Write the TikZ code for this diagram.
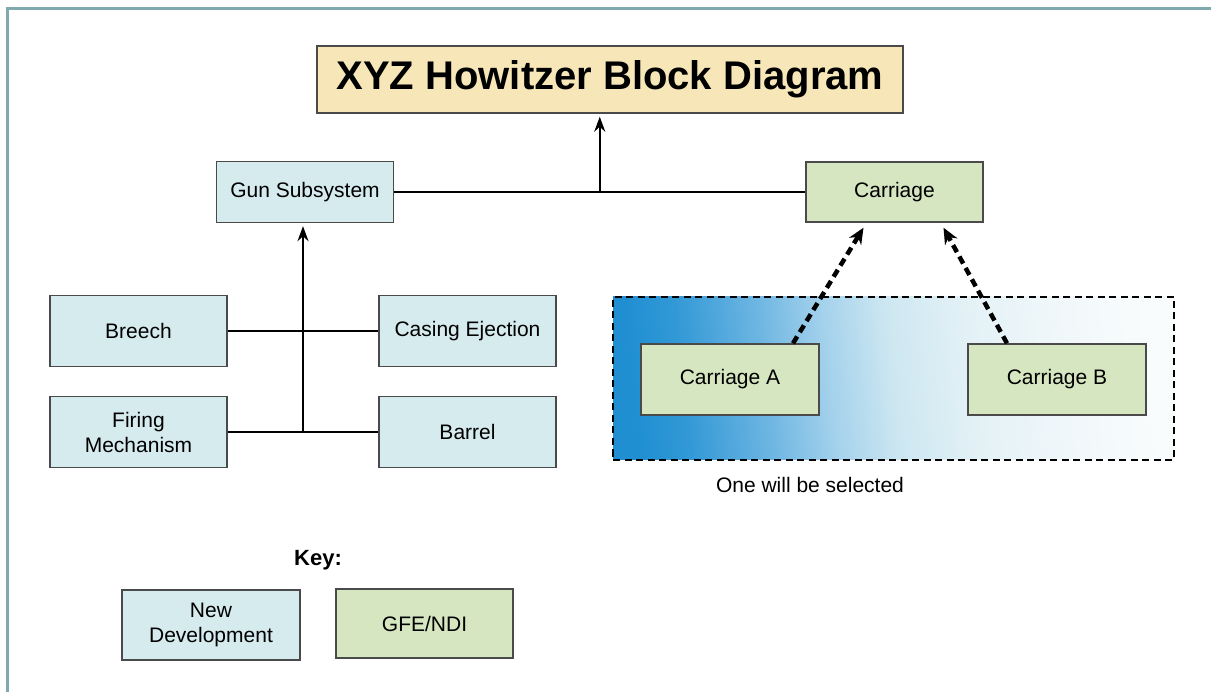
\documentclass[tikz,border=0pt]{standalone}
\usepackage{fontspec}
\setmainfont{Liberation Sans}
\usetikzlibrary{arrows.meta,calc}
\definecolor{ndc}{HTML}{D6EBEE}
\definecolor{gfc}{HTML}{D5E6C1}
\definecolor{ttc}{HTML}{F7E6B7}
\definecolor{bdc}{HTML}{4A4A4A}
\definecolor{frc}{HTML}{7FA9AC}
\definecolor{ga}{HTML}{1F8FD2}
\definecolor{gb}{HTML}{3399D6}
\definecolor{gc}{HTML}{6CB5E2}
\definecolor{gd}{HTML}{A5D2EC}
\definecolor{ge}{HTML}{CDE7F1}
\definecolor{gf}{HTML}{E3F1F6}
\definecolor{gg}{HTML}{F2F8FA}
\definecolor{gh}{HTML}{F9FCFD}
\pgfdeclarehorizontalshading{selgrad}{100bp}{color(0bp)=(ga); color(25bp)=(ga); color(30bp)=(gb); color(37.5bp)=(gc); color(44bp)=(gd); color(50bp)=(ge); color(57.5bp)=(gf); color(67.5bp)=(gg); color(75bp)=(gh); color(100bp)=(white)}
\tikzset{
  blk/.style={draw=bdc, line width=1.4pt, minimum width=177pt, minimum height=70pt, inner sep=0pt, align=center, font=\fontsize{21}{25}\selectfont},
  ndbox/.style={blk, fill=ndc},
  gfbox/.style={blk, fill=gfc},
  conn/.style={line width=2.2pt, black},
  arr/.style={conn, -{Stealth[length=15pt,width=11pt]}, shorten >=3pt},
  darr/.style={line width=4.5pt, black, dash pattern=on 8pt off 5pt, -{Stealth[length=16pt,width=14pt]}},
}
\begin{document}
\begin{tikzpicture}[x=1pt,y=-1pt]
\useasboundingbox (0,0) rectangle (1211,692);
\fill[white] (0,0) rectangle (1211,692);
\draw[frc, line width=3pt] (7,692) -- (7,9) -- (1211,9);

% title
\node[draw=bdc, line width=1.4pt, fill=ttc, minimum width=586pt, minimum height=67pt, inner sep=0pt,
      font=\fontsize{40}{46}\selectfont\bfseries] (title) at (610,79.5) {XYZ Howitzer Block Diagram};

% level 1
\node[ndbox, minimum height=61pt] (gun) at (305,192) {Gun Subsystem};
\node[gfbox, minimum height=60pt] (car) at (894.5,192) {Carriage};

% gun parts
\node[ndbox, minimum height=71pt] (breech) at (138.5,331) {Breech};
\node[ndbox, minimum height=71pt] (casing) at (467.5,331) {Casing Ejection};
\node[ndbox, minimum height=71pt] (firing) at (138.5,432) {Firing\\Mechanism};
\node[ndbox, minimum height=71pt] (barrel) at (467.5,432) {Barrel};

% selection area
\node[draw=black, line width=2.4pt, dash pattern=on 7pt off 4.5pt, shading=selgrad, shading angle=6,
      minimum width=561pt, minimum height=163pt, inner sep=0pt] (sel) at (893.5,378.5) {};
\node[gfbox, minimum width=178pt, minimum height=71pt] (cara) at (730,379.5) {Carriage A};
\node[gfbox, minimum width=178pt, minimum height=71pt] (carb) at (1057,379.5) {Carriage B};
\node[font=\fontsize{21}{25}\selectfont] (seltxt) at (810,485) {One will be selected};

% key
\node[font=\fontsize{22}{26}\selectfont\bfseries] (key) at (318,560) {Key:};
\node[ndbox, minimum width=178pt, minimum height=70pt] (knd) at (211,625) {New\\Development};
\node[gfbox, minimum height=69pt] (kgf) at (424.5,623.5) {GFE/NDI};

% connectors
\draw[conn] (gun.east) -- (car.west);
\coordinate (hj) at ($(gun.east)!0.5!(car.west)$);
\draw[arr] (hj) -- (title.south -| hj);

\draw[conn] (breech.east) -- (casing.west);
\draw[conn] (firing.east) -- (barrel.west);
\coordinate (vj) at ($(firing.east)!0.5!(barrel.west)$);
\draw[arr] (vj) -- (gun.south -| vj);

\draw[darr] ([xshift=63pt]cara.north) -- ([xshift=-31pt,yshift=-5pt]car.south);
\draw[darr] ([xshift=-50pt]carb.north) -- ([xshift=49pt,yshift=-5pt]car.south);
\end{tikzpicture}
\end{document}
